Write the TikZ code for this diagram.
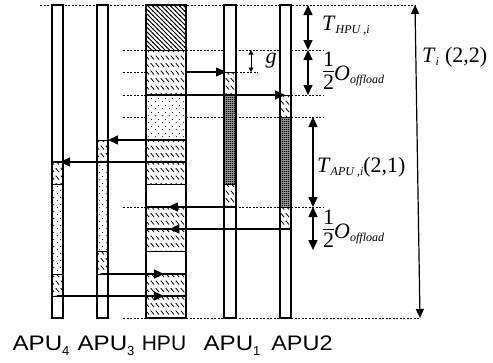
\documentclass[tikz,border=0pt]{standalone}
\usepackage{fontspec}
\setmainfont{Liberation Serif}
\newfontfamily\arialfont{Liberation Sans}
\usepackage{graphicx}
\usepackage{tikz}
\usetikzlibrary{arrows.meta,patterns,decorations.markings}

% fill patterns of the time slots
\pgfdeclarepatternformonly{slothatch}{\pgfqpoint{-1pt}{-1pt}}{\pgfqpoint{6pt}{8pt}}{\pgfqpoint{5pt}{7.5pt}}{%
  \pgfsetlinewidth{0.8pt}%
  \pgfpathmoveto{\pgfqpoint{0.8pt}{6.3pt}}%
  \pgfpathlineto{\pgfqpoint{4pt}{2.5pt}}%
  \pgfusepath{stroke}}
\pgfdeclarepatternformonly{slotdots}{\pgfpointorigin}{\pgfqpoint{7pt}{7pt}}{\pgfqpoint{7pt}{7pt}}{%
  \pgfpathcircle{\pgfqpoint{1.5pt}{1.5pt}}{0.6pt}%
  \pgfpathcircle{\pgfqpoint{5pt}{5pt}}{0.6pt}%
  \pgfusepath{fill}}
\pgfdeclarepatternformonly{slotdark}{\pgfpointorigin}{\pgfqpoint{2pt}{2pt}}{\pgfqpoint{2pt}{2pt}}{%
  \pgfpathrectangle{\pgfpointorigin}{\pgfqpoint{1.65pt}{1.65pt}}%
  \pgfusepath{fill}}
\pgfdeclarepatternformonly{slotdense}{\pgfqpoint{-1pt}{-1pt}}{\pgfqpoint{5.5pt}{5.5pt}}{\pgfqpoint{4.5pt}{4.5pt}}{%
  \pgfsetlinewidth{0.8pt}%
  \pgfpathmoveto{\pgfqpoint{-0.5pt}{5pt}}%
  \pgfpathlineto{\pgfqpoint{5pt}{-0.5pt}}%
  \pgfusepath{stroke}}

\newcommand{\tsub}[2]{\textit{#1}\raisebox{-3pt}{\fontsize{12}{12}\selectfont\textit{#2}}}
\newcommand{\halfof}{{\setlength{\tabcolsep}{0pt}\setlength{\arrayrulewidth}{0.7pt}%
  \renewcommand{\arraystretch}{0.5}\begin{tabular}{c}1\\\hline\rule{0pt}{18pt}2\end{tabular}}}
\newcommand{\usub}[2]{\scalebox{1.15}[1]{#1}\raisebox{-5pt}{\fontsize{13}{13}\selectfont #2}}

\tikzset{
  colbox/.style={draw,line width=1.1pt},
  sep/.style={line width=0.9pt},
  hatchslot/.style={pattern=slothatch},
  dotslot/.style={pattern=slotdots},
  darkslot/.style={fill=black!40,postaction={pattern=slotdark}},
  denseslot/.style={pattern=slotdense},
  guide/.style={line width=0.7pt,dash pattern=on 2pt off 1.5pt},
  flow/.style={line width=1.5pt,postaction={decorate},
    decoration={markings,mark=at position #1 with {\arrow{Triangle[length=10pt,width=9pt]}}}},
  flowend/.style={line width=1.5pt,-{Triangle[length=10pt,width=9pt]}},
  dimarr/.style={line width=1.5pt,{Triangle[length=10pt,width=9pt]}-{Triangle[length=10pt,width=9pt]}},
  gapdim/.style={line width=0.9pt,{Triangle[length=4.5pt,width=5pt]}-{Triangle[length=4.5pt,width=5pt]}},
  totaldim/.style={line width=1.2pt,{Triangle[length=9pt,width=8pt]}-{Triangle[length=9pt,width=8pt]}},
  lbl/.style={inner sep=0pt,font=\fontsize{22}{26}\selectfont},
  unit/.style={inner sep=0pt,font=\arialfont\fontsize{21}{24}\selectfont}
}

\begin{document}
\begin{tikzpicture}[x=1pt,y=-1pt]
\useasboundingbox (0,0) rectangle (493,362);

% ---------------- dashed time marks ----------------
\draw[guide] (40,5) -- (415,5);
\foreach \yy in {50,95,117,207} {
    \draw[guide] (123,\yy) -- (323,\yy);
}
\draw[guide] (123,72) -- (146,72);
\draw[guide] (236,72) -- (258,72);
\draw[guide] (123,318) -- (420,318);

% ---------------- processor columns ----------------
\foreach \xl/\xr in {52/63,97/108,146/186,224/236,280/291} {
    \path[fill=white] (\xl,5) rectangle (\xr,318);
}
\foreach \xl/\xr/\ya/\yb/\kind in {
    52/63/162/184/hatchslot, 52/63/184/274/dotslot, 52/63/274/296/hatchslot,
    97/108/140/162/hatchslot, 97/108/162/251/dotslot, 97/108/251/274/hatchslot,
    146/186/5/50/denseslot, 146/186/50/95/hatchslot, 146/186/95/140/dotslot,
    146/186/140/184/hatchslot, 146/186/207/251/hatchslot, 146/186/274/318/hatchslot,
    224/236/72/95/hatchslot, 224/236/95/184/darkslot, 224/236/184/207/hatchslot,
    280/291/95/117/hatchslot, 280/291/117/207/darkslot, 280/291/207/229/hatchslot} {
    \path[\kind] (\xl,\ya) rectangle (\xr,\yb);
}
\foreach \xl/\xr/\yy in {146/186/50,146/186/184,146/186/251,52/63/184,52/63/274,52/63/296,
    97/108/140,97/108/251,97/108/274,224/236/72,224/236/184,
    280/291/95,280/291/117,280/291/207,280/291/229} {
    \draw[sep] (\xl,\yy) -- (\xr,\yy);
}
\foreach \xl/\xr/\nm in {52/63/apuiv,97/108/apuiii,146/186/hpu,224/236/apui,280/291/apuii} {
    \draw[colbox] (\xl,5) rectangle (\xr,318);
    \coordinate (\nm) at ({(\xl+\xr)/2},318);
}

% ---------------- transfers ----------------
\foreach \nm/\xa/\xb/\yy/\p in {toapuiv/186/53/162/0.947, fromapui/236/146/207/0.756,
    fromapuii/291/146/229/0.839, fromapuiii/102/186/274/0.738, fromapuiv/57/186/296/0.829} {
    \coordinate (\nm s) at (\xa,\yy);
    \coordinate (\nm t) at (\xb,\yy);
    \draw[flow=\p] (\nm s) -- (\nm t);
}
\foreach \nm/\xa/\xb/\yy in {toapuiii/186/108/140, toapui/186/226/72, toapuii/146/285/95} {
    \coordinate (\nm s) at (\xa,\yy);
    \coordinate (\nm t) at (\xb,\yy);
    \draw[flowend] (\nm s) -- (\nm t);
}

% ---------------- dimensions ----------------
\foreach \nm/\xx/\ya/\yb in {thpu/308/5/50, offa/308/50/95, tapu/313/117/207, offb/313/207/250} {
    \coordinate (\nm a) at (\xx,\ya);
    \coordinate (\nm b) at (\xx,\yb);
    \draw[dimarr] (\nm a) -- (\nm b);
}
\coordinate (ga) at (251,50);
\coordinate (gb) at (251,72);
\draw[gapdim] (ga) -- (gb);
\coordinate (tia) at (415,5);
\coordinate (tib) at (420,318);
\draw[totaldim] (tia) -- (tib);

% ---------------- labels ----------------
\node[lbl,anchor=base west] (lthpu) at (322,30) {\tsub{T}{HPU ,i}};
\node[lbl,anchor=base west] (loffa) at (323,80) {\raisebox{2pt}{\halfof}\tsub{O}{offload}};
\node[lbl] (lg) at (271,61) {\textit{g}};
\node[lbl,anchor=base west] (ltapu) at (317,172) {\tsub{T}{APU ,i}(2,1)};
\node[lbl,anchor=base west] (loffb) at (323,238) {\raisebox{2pt}{\halfof}\tsub{O}{offload}};
\node[lbl,anchor=base west] (lti) at (422,62) {\tsub{T}{i}\hspace{6pt}(2,2)};

\node[unit,anchor=base] (uapuiv) at (41,350) {\usub{APU}{4}};
\node[unit,anchor=base] (uapuiii) at (106,350) {\usub{APU}{3}};
\node[unit,anchor=base] (uhpu) at (164,350) {HPU};
\node[unit,anchor=base] (uapui) at (232,350) {\usub{APU}{1}};
\node[unit,anchor=base] (uapuii) at (302,350) {\scalebox{1.12}[1]{APU2}};

\end{tikzpicture}
\end{document}
